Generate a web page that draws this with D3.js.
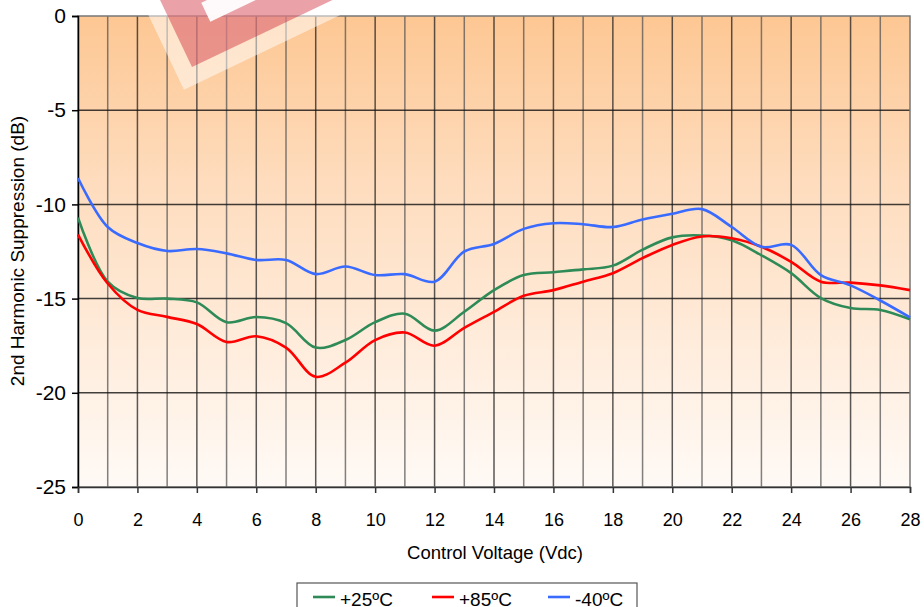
<!DOCTYPE html>
<html><head><meta charset="utf-8">
<script src="https://cdn.jsdelivr.net/npm/d3@7"></script>
<style>body{margin:0;background:#fff}svg{display:block;font-family:"Liberation Sans",Arial,sans-serif}</style>
</head><body><svg id="c" width="924" height="607"></svg>
<script>
const voltage = d3.range(0, 29, 1);
const plus25 = [-10.7,-14.1,-14.97,-15.0,-15.2,-16.25,-15.98,-16.3,-17.6,-17.2,-16.25,-15.8,-16.7,-15.7,-14.55,-13.75,-13.6,-13.45,-13.25,-12.4,-11.75,-11.65,-11.9,-12.7,-13.65,-14.97,-15.5,-15.6,-16.1];
const plus85 = [-11.6,-14.2,-15.6,-15.97,-16.35,-17.3,-17.0,-17.6,-19.15,-18.4,-17.2,-16.8,-17.5,-16.55,-15.7,-14.85,-14.55,-14.1,-13.65,-12.85,-12.15,-11.7,-11.8,-12.25,-13.05,-14.1,-14.15,-14.3,-14.55];
const minus40 = [-8.6,-11.2,-12.05,-12.47,-12.37,-12.6,-12.95,-12.95,-13.7,-13.3,-13.75,-13.7,-14.1,-12.5,-12.1,-11.3,-11.0,-11.05,-11.2,-10.8,-10.5,-10.25,-11.2,-12.25,-12.15,-13.75,-14.3,-15.1,-16.0];
const seriesNames = ["+25ºC","+85ºC","-40ºC"];
const seriesColors = ["#2e8b57","#ff0000","#3a6bff"];
const xTicks = d3.range(0, 29, 2);
const yTicks = [0,-5,-10,-15,-20,-25];

const svg = d3.select("#c");
const L=78, R=910, T=16, B=487;
const x = d3.scaleLinear().domain([0,28]).range([L,R]);
const y = d3.scaleLinear().domain([-25,0]).range([B,T]);

const defs = svg.append("defs");
const g = defs.append("linearGradient").attr("id","bg").attr("x1",0).attr("y1",0).attr("x2",0).attr("y2",1);
g.append("stop").attr("offset","0%").attr("stop-color","#fdc793");
g.append("stop").attr("offset","35%").attr("stop-color","#fedcbd");
g.append("stop").attr("offset","100%").attr("stop-color","#fffaf6");

svg.append("rect").attr("x",L).attr("y",T).attr("width",R-L).attr("height",B-T).attr("fill","url(#bg)");

// vertical gridlines
svg.append("g").selectAll("line").data(d3.range(1,28)).join("line")
  .attr("x1",d=>x(d)).attr("x2",d=>x(d)).attr("y1",T).attr("y2",B)
  .attr("stroke",(d)=>d%2===0?"#222":"#555").attr("stroke-opacity",0.75).attr("stroke-width",1.5);
// horizontal gridlines
svg.append("g").selectAll("line").data([-5,-10,-15,-20]).join("line")
  .attr("x1",L).attr("x2",R).attr("y1",d=>y(d)).attr("y2",d=>y(d))
  .attr("stroke","#111").attr("stroke-opacity",0.8).attr("stroke-width",1.5);
// border
svg.append("rect").attr("x",L).attr("y",T).attr("width",R-L).attr("height",B-T)
  .attr("fill","none").attr("stroke","#777").attr("stroke-width",1.5);

// watermark
const wm = svg.append("g").attr("transform","translate(192,67) rotate(-25.5)");
wm.append("rect").attr("x",-17).attr("y",-187).attr("width",204).attr("height",204).attr("fill","#fff").attr("fill-opacity",0.5);
wm.append("rect").attr("x",0).attr("y",-170).attr("width",170).attr("height",170).attr("fill","rgb(205,30,45)").attr("fill-opacity",0.42);
wm.append("rect").attr("x",36).attr("y",-54).attr("width",170).attr("height",21).attr("fill","#fff").attr("fill-opacity",0.95);

// axes
const ya = svg.append("g").attr("transform",`translate(${L},0)`)
  .call(d3.axisLeft(y).tickValues(yTicks).tickSize(6).tickPadding(6).tickFormat(d=>String(d)));
ya.select(".domain").attr("stroke","#000").attr("stroke-width",1.5);
ya.selectAll(".tick line").attr("stroke","#000").attr("stroke-width",1.5);
ya.selectAll("text").attr("font-size",21).attr("fill","#000").attr("font-family","Liberation Sans, Arial, sans-serif");

const xa = svg.append("g").attr("transform",`translate(0,${B})`)
  .call(d3.axisBottom(x).tickValues(xTicks).tickSize(6).tickPadding(20).tickFormat(d=>String(d)));
xa.select(".domain").attr("stroke","#333").attr("stroke-width",1.5);
xa.selectAll(".tick line").attr("stroke","#333").attr("stroke-width",1.5);
xa.selectAll("text").attr("font-size",18).attr("fill","#000").attr("font-family","Liberation Sans, Arial, sans-serif");

svg.append("text").attr("x",(L+R)/2+1).attr("y",559).attr("text-anchor","middle").attr("font-size",18.5).text("Control Voltage (Vdc)");
svg.append("text").attr("transform",`translate(24,251) rotate(-90)`).attr("text-anchor","middle").attr("font-size",19).text("2nd Harmonic Suppression (dB)");

// lines
const line = d3.line().x((d,i)=>x(voltage[i])).y(d=>y(d)).curve(d3.curveCatmullRom.alpha(0.5));
const all = [plus25, plus85, minus40];
svg.append("g").selectAll("path").data([0,1,2]).join("path")
  .attr("d",i=>line(all[i])).attr("fill","none").attr("stroke",i=>seriesColors[i]).attr("stroke-width",2.6);

// legend
const lg = svg.append("g");
lg.append("rect").attr("x",297).attr("y",583).attr("width",340).attr("height",40).attr("fill","#fff").attr("stroke","#555").attr("stroke-width",1.2);
const itemX = [313,432,548];
seriesNames.forEach((n,i)=>{
  lg.append("line").attr("x1",itemX[i]).attr("x2",itemX[i]+22).attr("y1",597).attr("y2",597).attr("stroke",seriesColors[i]).attr("stroke-width",2.6);
  lg.append("text").attr("x",itemX[i]+27).attr("y",606).attr("font-size",19).text(n);
});
</script></body></html>
